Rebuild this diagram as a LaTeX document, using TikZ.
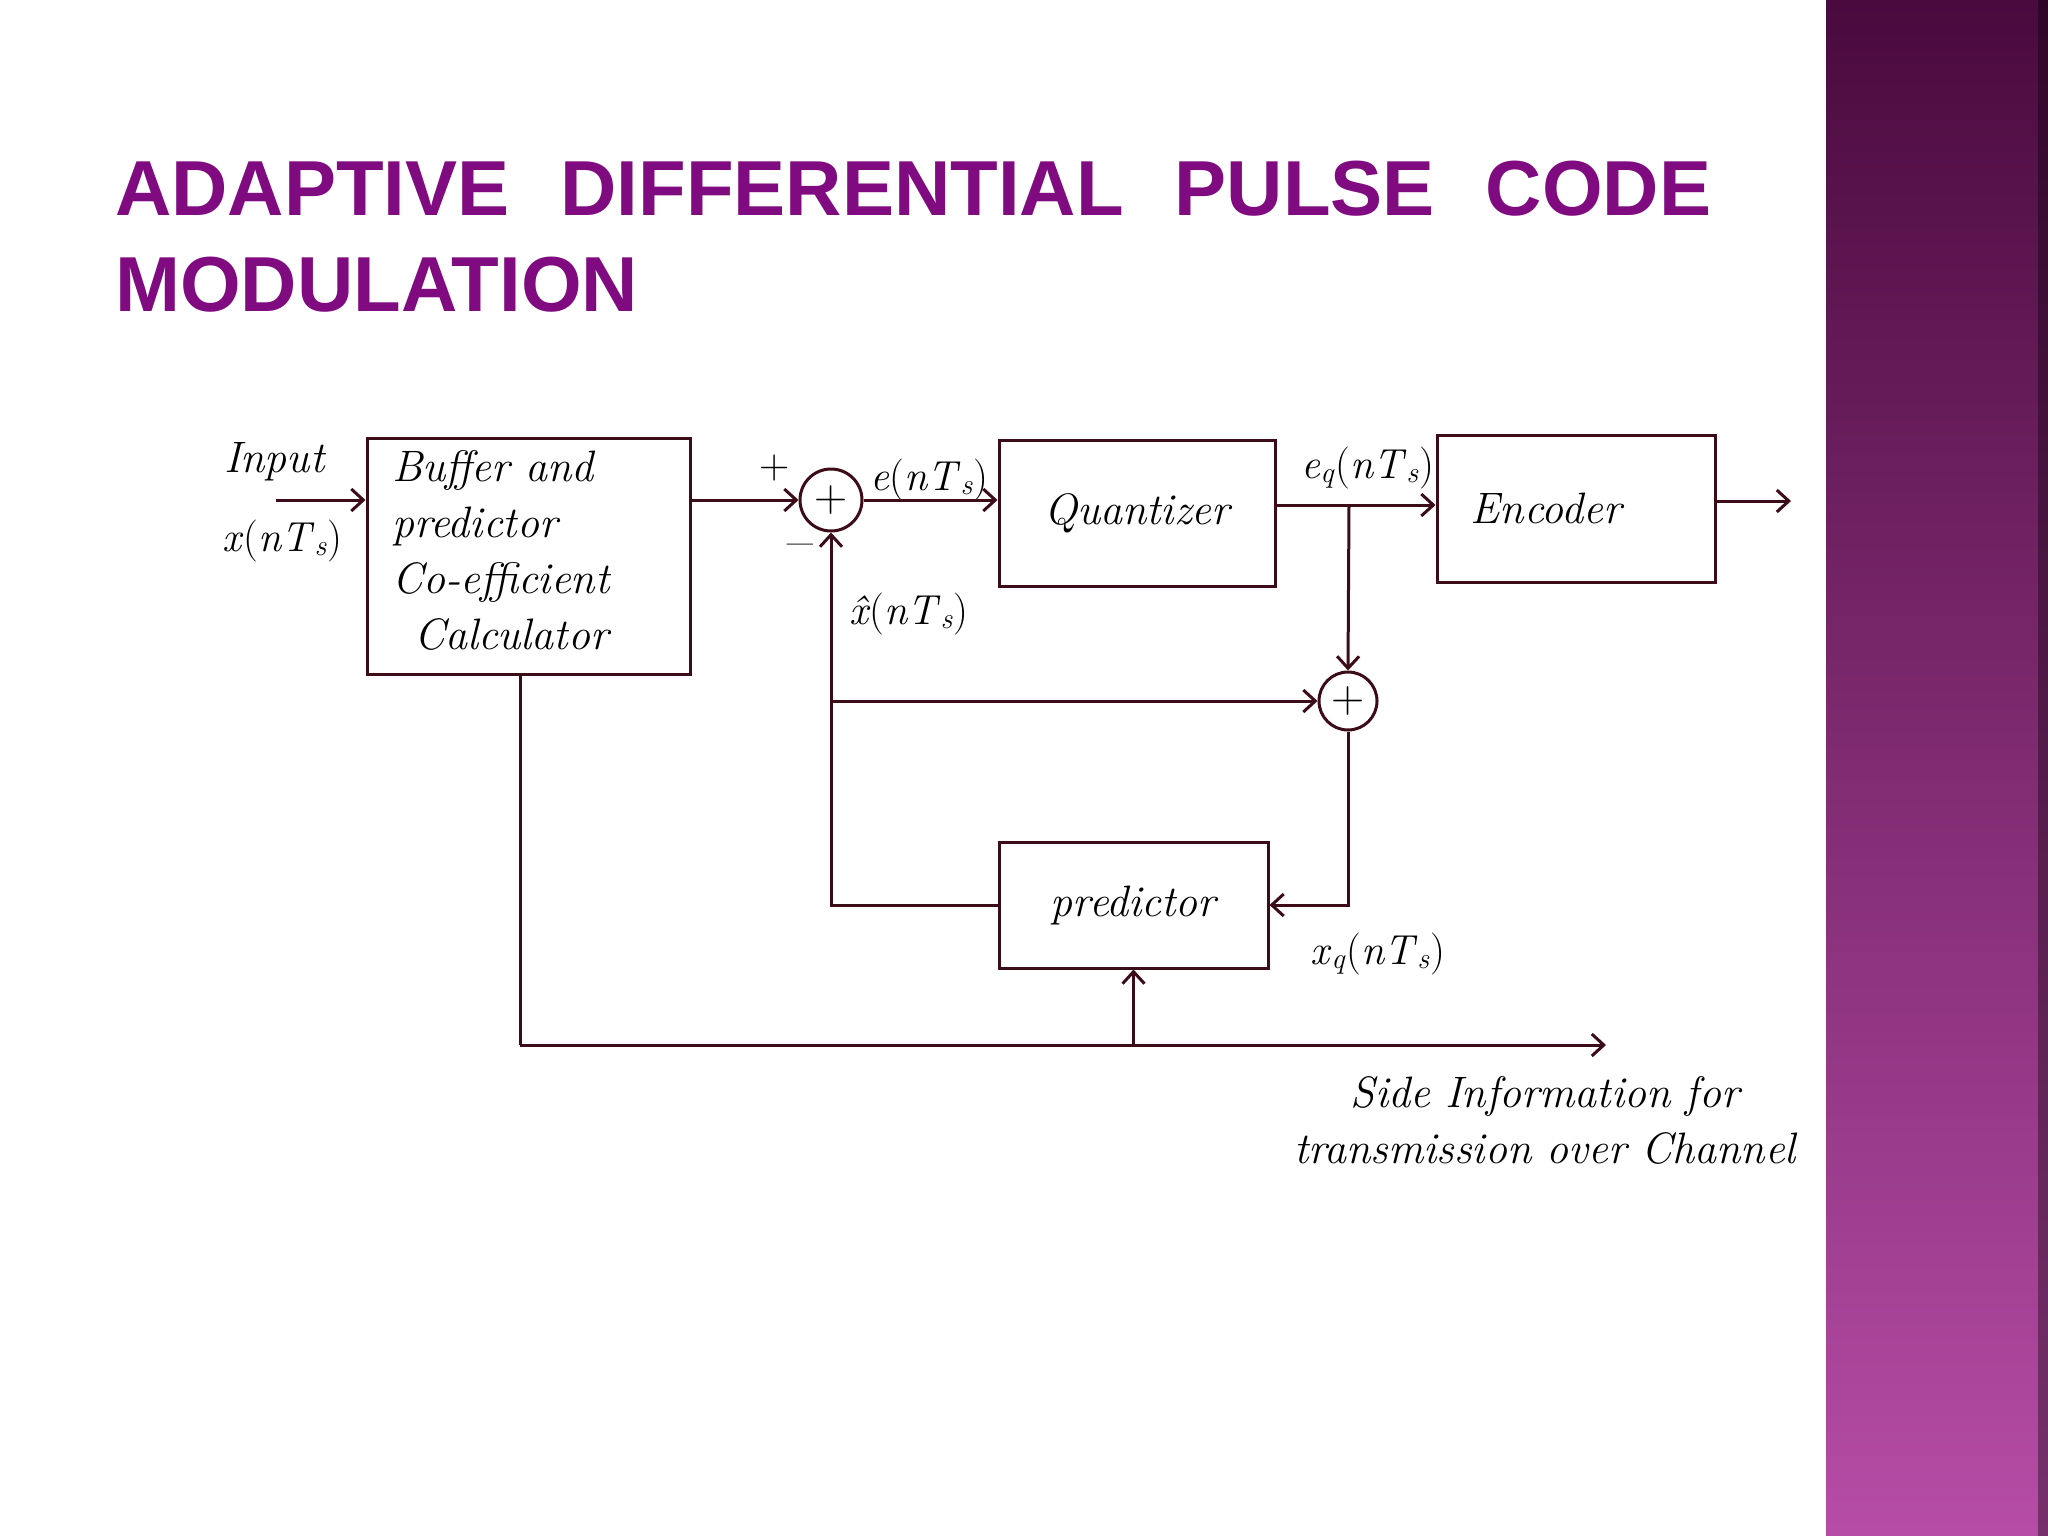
\documentclass[tikz,border=0pt]{standalone}
\usepackage{fontspec}
\newfontfamily\titlefont{Liberation Sans}
\usetikzlibrary{arrows.meta,calc}
\definecolor{titlecol}{RGB}{128,10,128}
\definecolor{lc}{RGB}{60,12,24}
\definecolor{bartop}{RGB}{74,10,62}
\definecolor{barbot}{RGB}{182,76,166}
\newcommand{\sig}[2]{\textit{#1}(\textit{nT}\textsubscript{\textit{#2}})}
\tikzset{
  blk/.style={draw=lc, line width=3pt, inner sep=0pt},
  sumc/.style={draw=lc, line width=3pt, circle, inner sep=0pt, font=\fontsize{46}{50}\selectfont},
  conn/.style={draw=lc, line width=3pt},
  arr/.style={conn, -{Straight Barb[length=12pt,width=22pt,line width=3pt]}},
  hand/.style={font=\itshape\fontsize{44}{56}\selectfont, text=black},
  lbl/.style={font=\fontsize{42}{46}\selectfont, text=black, inner sep=0pt},
}
\begin{document}
\begin{tikzpicture}[x=1pt,y=-1pt]
\useasboundingbox (0,0) rectangle (2048,1536);
\fill[white] (0,0) rectangle (2048,1536);
% side bar
\shade[top color=bartop, bottom color=barbot] (1826,0) rectangle (2048,1536);
\fill[black, opacity=0.35] (2038,0) rectangle (2048,1536);
% title
\node[anchor=base west, inner sep=0pt, text=titlecol, font=\titlefont\bfseries\fontsize{78}{94}\selectfont] (t1) at (115,215)
  {\makebox[1596pt][s]{ADAPTIVE DIFFERENTIAL PULSE CODE}};
\node[anchor=base west, inner sep=0pt, text=titlecol, font=\titlefont\bfseries\fontsize{78}{94}\selectfont] (t2) at (115,311)
  {MODULATION};
% blocks
\node[blk, minimum width=323pt, minimum height=236pt] (buf) at (528.5,556) {};
\node[hand, anchor=north west, align=left, inner sep=0pt] (buftxt) at (392,450)
  {Buffer and\\predictor\\Co-efficient\\\hspace*{22pt}Calculator};
\node[blk, minimum width=276pt, minimum height=146pt, hand] (quant) at (1137,513) {Quantizer};
\node[blk, minimum width=278pt, minimum height=147pt, hand] (enc) at (1576,508.5) {Encoder\hspace*{60pt}};
\node[blk, minimum width=269pt, minimum height=126pt, hand] (pred) at (1133.5,905) {predictor};
\node[sumc, minimum size=62pt] (sum1) at (831,500) {+};
\node[sumc, minimum size=58pt] (sum2) at (1348,701) {+};
% labels
\node[hand, anchor=base west, inner sep=0pt] (inlbl) at (224,472) {Input};
\node[lbl, anchor=base west] (xlbl) at (222,551) {\sig{x}{s}};
\node[lbl] (plus) at (775,468) {+};
\node[lbl, font=\fontsize{56}{60}\selectfont] (minus) at (800,552) {--};
\node[lbl, anchor=base west] (elbl) at (870,490) {\sig{e}{s}};
\node[lbl, anchor=base west] (eqlbl) at (1301,478) {\textit{e}\textsubscript{\textit{q}}(\textit{nT}\textsubscript{\textit{s}})};
\node[lbl, anchor=base west] (xhlbl) at (849,624) {\textit{\^{x}}(\textit{nT}\textsubscript{\textit{s}})};
\node[lbl, anchor=base west] (xqlbl) at (1310,964) {\textit{x}\textsubscript{\textit{q}}(\textit{nT}\textsubscript{\textit{s}})};
\node[hand, align=center, inner sep=0pt] (side) at (1545,1120)
  {Side Information for\\transmission over Channel};
% connectors
\coordinate (inp) at (276,500);
\draw[arr] (inp) -- (inp -| buf.west);
\draw[arr] (buf.east |- sum1.west) -- (sum1.west);
\draw[arr] (sum1.east) -- (sum1.east -| quant.west);
\coordinate (j1) at (1349,505);
\draw[conn] (quant.east |- j1) -- (j1);
\draw[arr] (j1) -- (j1 -| enc.west);
\draw[arr] (j1) -- (sum2.north);
\coordinate (out) at (1791,501);
\draw[arr] (enc.east |- out) -- (out);
\draw[arr] (pred.west) -- (pred.west -| sum1) -- (sum1.south);
\draw[arr] (sum1 |- sum2) -- (sum2.west);
\draw[arr] (sum2.south) -- (sum2.south |- pred.east) -- (pred.east);
\coordinate (s1) at (520,1045);
\coordinate (s2) at (1606,1045);
\draw[conn] (s1 |- buf.south) -- (s1);
\draw[arr] (s1) -- (s2);
\draw[arr] (pred.south |- s1) -- (pred.south);
\end{tikzpicture}
\end{document}
